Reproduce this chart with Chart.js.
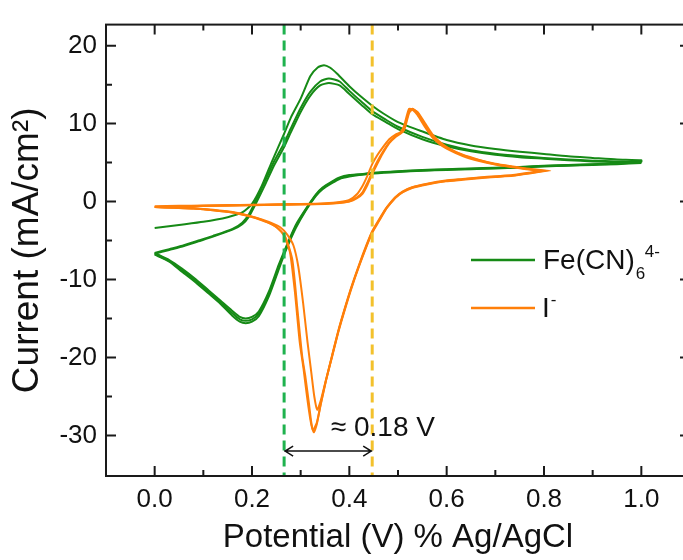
<!DOCTYPE html>
<html><head><meta charset="utf-8">
<script src="https://cdn.jsdelivr.net/npm/chart.js@4.4.1/dist/chart.umd.min.js"></script>
<style>html,body{margin:0;padding:0;background:#fff;overflow:hidden;width:683px;height:560px}canvas{display:block}</style>
</head><body><canvas id="c" width="700" height="560" style="width:700px;height:560px"></canvas>
<script>
// ---- axis ticks ----
const xTicks = [0.0, 0.2, 0.4, 0.6, 0.8, 1.0];
const xMinorTicks = [0.1, 0.3, 0.5, 0.7, 0.9];
const yTicks = [-30, -20, -10, 0, 10, 20];
const yMinorTicks = [-25, -15, -5, 5, 15];
const seriesNames = ['Fe(CN)6 4-', 'I-'];
const markerE = [0.266, 0.447];          // dashed lines (V)
const markerLabel = '≈ 0.18 V';

// ---- Fe(CN)6 4- : cycle 1 (thin first scan) ----
const feFwd1E = [0.00,0.05,0.10,0.15,0.18,0.20,0.22,0.24,0.266,0.28,0.30,0.32,0.335,0.348,0.36,0.375,0.40,0.425,0.447,0.47,0.50,0.55,0.60,0.65,0.70,0.75,0.80,0.85,0.90,0.95,1.00];
const feFwd1I = [-3.4,-3.0,-2.6,-2.0,-1.4,-0.3,2.0,5.0,8.7,10.8,13.2,16.1,17.2,17.5,17.2,16.4,14.8,13.4,12.3,11.3,10.2,9.0,7.9,7.2,6.75,6.4,6.1,5.8,5.6,5.4,5.3];
const feRevE = [1.00,0.95,0.90,0.85,0.80,0.75,0.70,0.65,0.60,0.55,0.50,0.45,0.42,0.40,0.38,0.365,0.345,0.331,0.31,0.29,0.27,0.255,0.235,0.214,0.20,0.187,0.175,0.159,0.135,0.111,0.085,0.056,0.03,0.00];
const feRev1I = [5.1,4.9,4.8,4.7,4.6,4.45,4.35,4.25,4.15,4.05,3.9,3.7,3.5,3.4,3.1,2.6,1.8,0.9,-1.0,-3.0,-5.8,-8.1,-11.5,-14.1,-14.8,-15.0,-14.8,-14.0,-12.7,-11.4,-10.0,-8.6,-7.5,-6.6];
// ---- Fe(CN)6 4- : cycles 2 and 3 ----
const feFwdE = [0.00,0.03,0.06,0.09,0.12,0.16,0.18,0.194,0.21,0.228,0.245,0.266,0.28,0.30,0.32,0.34,0.358,0.38,0.40,0.425,0.447,0.475,0.50,0.55,0.60,0.65,0.70,0.75,0.80,0.85,0.90,0.95,1.00];
const feFwd2I = [-6.6,-6.1,-5.6,-5.0,-4.4,-3.5,-2.7,-1.6,0.4,2.8,5.1,7.5,9.4,12.0,14.1,15.4,15.8,15.4,14.2,12.8,11.6,10.5,9.6,8.3,7.3,6.6,6.15,5.85,5.6,5.4,5.25,5.15,5.05];
const feRev2I = [5.05,4.85,4.75,4.65,4.55,4.4,4.3,4.2,4.1,4.0,3.85,3.65,3.45,3.3,3.0,2.5,1.7,0.8,-1.1,-3.2,-6.0,-8.4,-11.8,-14.4,-15.1,-15.3,-15.1,-14.3,-12.9,-11.6,-10.2,-8.8,-7.6,-6.7];
const feFwd3I = [-6.7,-6.2,-5.7,-5.1,-4.5,-3.6,-2.9,-1.9,0.0,2.3,4.6,7.0,8.9,11.5,13.6,14.9,15.2,14.9,13.8,12.4,11.2,10.2,9.3,8.0,7.1,6.45,6.0,5.7,5.5,5.3,5.15,5.05,4.95];
const feRev3I = [4.95,4.8,4.7,4.6,4.5,4.35,4.25,4.15,4.05,3.95,3.8,3.6,3.4,3.2,2.9,2.4,1.6,0.7,-1.2,-3.4,-6.2,-8.7,-12.1,-14.7,-15.4,-15.6,-15.4,-14.6,-13.1,-11.8,-10.4,-9.0,-7.7,-6.8];

// ---- I- : forward scans ----
const iFwdE = [0.00,0.05,0.10,0.15,0.20,0.25,0.30,0.35,0.38,0.40,0.415,0.427,0.437,0.447,0.458,0.468,0.482,0.495,0.505,0.512,0.518,0.523,0.530,0.540,0.555,0.571,0.585,0.60,0.633,0.667,0.70,0.736,0.77,0.80];
const iFwd1I = [-0.6,-0.55,-0.5,-0.45,-0.4,-0.35,-0.3,-0.2,-0.05,0.2,0.9,2.0,3.3,4.8,6.0,6.9,8.0,8.6,8.9,9.6,11.0,11.9,11.8,11.1,9.6,8.2,7.4,6.8,5.85,5.2,4.75,4.4,4.1,3.9];
const iFwd2I = [-0.7,-0.62,-0.55,-0.5,-0.45,-0.4,-0.35,-0.28,-0.15,0.05,0.5,1.2,2.4,3.8,5.2,6.3,7.6,8.4,8.8,9.3,10.6,11.6,11.9,11.4,9.9,8.4,7.6,6.95,5.95,5.3,4.8,4.45,4.15,3.95];
const iFwd3I = [-0.7,-0.65,-0.58,-0.52,-0.47,-0.42,-0.37,-0.3,-0.18,0.0,0.4,1.0,2.1,3.5,4.9,6.1,7.5,8.3,8.7,9.1,10.3,11.4,11.8,11.5,10.1,8.6,7.7,7.0,6.0,5.35,4.85,4.5,4.2,4.0];
// ---- I- : reverse scans ----
const iRev1E = [0.80,0.77,0.736,0.70,0.667,0.633,0.598,0.56,0.529,0.51,0.495,0.485,0.475,0.461,0.447,0.435,0.42,0.405,0.392,0.378,0.365,0.352,0.341,0.334,0.328,0.322,0.314,0.305,0.295,0.285,0.272,0.258,0.242,0.22,0.194,0.16,0.12,0.08,0.04,0.00];
const iRev1I = [3.9,3.6,3.3,3.15,3.0,2.8,2.6,2.2,1.75,1.2,0.5,-0.2,-1.0,-2.5,-4.0,-5.8,-8.3,-11.0,-13.6,-16.6,-19.8,-22.9,-25.6,-26.7,-25.0,-22.0,-18.0,-13.0,-8.3,-5.6,-4.2,-3.3,-2.8,-2.3,-1.8,-1.35,-1.05,-0.85,-0.75,-0.7];
const iRev2E = [0.80,0.77,0.736,0.70,0.667,0.633,0.598,0.56,0.529,0.51,0.495,0.485,0.475,0.461,0.447,0.435,0.42,0.405,0.392,0.378,0.365,0.352,0.341,0.333,0.327,0.322,0.317,0.31,0.303,0.293,0.283,0.269,0.255,0.242,0.22,0.194,0.16,0.12,0.08,0.04,0.00];
const iRev2I = [3.95,3.65,3.35,3.2,3.05,2.85,2.65,2.25,1.8,1.25,0.55,-0.15,-0.95,-2.4,-3.9,-5.7,-8.2,-10.9,-13.5,-16.5,-19.7,-23.0,-26.1,-28.6,-29.6,-28.4,-25.9,-22.6,-19.8,-13.6,-7.5,-4.6,-3.5,-2.95,-2.4,-1.9,-1.4,-1.1,-0.9,-0.8,-0.7];
const iRev3E = [0.80,0.77,0.736,0.70,0.667,0.633,0.598,0.56,0.529,0.51,0.495,0.485,0.475,0.461,0.447,0.435,0.42,0.405,0.392,0.378,0.365,0.352,0.341,0.333,0.325,0.32,0.313,0.306,0.298,0.288,0.278,0.265,0.252,0.24,0.22,0.194,0.16,0.12,0.08,0.04,0.00];
const iRev3I = [4.0,3.7,3.4,3.25,3.1,2.9,2.7,2.3,1.85,1.3,0.6,-0.1,-0.9,-2.3,-3.8,-5.6,-8.1,-10.8,-13.4,-16.4,-19.6,-22.9,-26.0,-28.4,-29.3,-28.0,-25.0,-21.5,-18.0,-11.5,-6.5,-4.3,-3.4,-2.9,-2.35,-1.85,-1.4,-1.1,-0.9,-0.8,-0.7];

const GREEN = '#168a16', ORANGE = '#ff7f0a';
const pts = (e, i) => e.map((v, k) => ({x: v, y: i[k]}));
const cyc = (fe, fi, re, ri) => pts(fe, fi).concat(pts(re, ri));
const line = (data, color) => ({data, borderColor: color, backgroundColor: color, borderWidth: 2, showLine: true, pointRadius: 0, tension: 0.2, fill: false});

const datasets = [
  line(cyc(iFwdE, iFwd1I, iRev1E, iRev1I), ORANGE),
  line(cyc(iFwdE, iFwd2I, iRev2E, iRev2I), ORANGE),
  line(cyc(iFwdE, iFwd3I, iRev3E, iRev3I), ORANGE),
  line(cyc(feFwd1E, feFwd1I, feRevE, feRev1I), GREEN),
  line(cyc(feFwdE, feFwd2I, feRevE, feRev2I), GREEN),
  line(cyc(feFwdE, feFwd3I, feRevE, feRev3I), GREEN)
];

const overlay = {
  id: 'overlay',
  afterDatasetsDraw(chart) {
    const {ctx, chartArea: a, scales: {x, y}} = chart;
    ctx.save();
    // dashed guide lines
    ctx.lineWidth = 3; ctx.setLineDash([10, 6]);
    [[markerE[0], '#1fb24e'], [markerE[1], '#f3c12c']].forEach(([e, c]) => {
      const px = x.getPixelForValue(e);
      ctx.strokeStyle = c; ctx.beginPath(); ctx.moveTo(px, a.top); ctx.lineTo(px, a.bottom); ctx.stroke();
    });
    ctx.setLineDash([]);
    // double arrow
    const x1 = x.getPixelForValue(markerE[0]), x2 = x.getPixelForValue(markerE[1]), ay = y.getPixelForValue(-32);
    ctx.strokeStyle = '#111'; ctx.lineWidth = 1.5;
    ctx.beginPath(); ctx.moveTo(x1, ay); ctx.lineTo(x2, ay);
    ctx.moveTo(x1 + 9, ay - 5); ctx.lineTo(x1 + 1, ay); ctx.lineTo(x1 + 9, ay + 5);
    ctx.moveTo(x2 - 9, ay - 5); ctx.lineTo(x2 - 1, ay); ctx.lineTo(x2 - 9, ay + 5);
    ctx.stroke();
    ctx.fillStyle = '#111'; ctx.font = '28px "Liberation Sans", Arial, sans-serif';
    ctx.textBaseline = 'middle'; ctx.textAlign = 'left';
    ctx.fillText(markerLabel, x.getPixelForValue(0.362), y.getPixelForValue(-29.1));
    // legend
    const lx0 = 471, lx1 = 535, tx = 543;
    ctx.lineWidth = 2.5;
    ctx.strokeStyle = GREEN; ctx.beginPath(); ctx.moveTo(lx0, 260); ctx.lineTo(lx1, 260); ctx.stroke();
    ctx.strokeStyle = ORANGE; ctx.beginPath(); ctx.moveTo(lx0, 308); ctx.lineTo(lx1, 308); ctx.stroke();
    ctx.textBaseline = 'alphabetic'; ctx.fillStyle = '#111';
    ctx.font = '28px "Liberation Sans", Arial, sans-serif';
    const fe = 'Fe(CN)'; ctx.fillText(fe, tx, 268.5);
    const w = ctx.measureText(fe).width;
    ctx.font = '17px "Liberation Sans", Arial, sans-serif';
    ctx.fillText('6', tx + w + 1, 278.5);
    ctx.fillText('4-', tx + w + 10, 257);
    ctx.font = '28px "Liberation Sans", Arial, sans-serif';
    ctx.fillText('I', tx - 1, 316.5);
    const wi = ctx.measureText('I').width;
    ctx.font = '17px "Liberation Sans", Arial, sans-serif';
    ctx.fillText('-', tx + wi, 305);
    // frame and inward ticks
    ctx.strokeStyle = '#1a1a1a'; ctx.lineWidth = 2;
    ctx.strokeRect(a.left, a.top, a.right - a.left, a.bottom - a.top);
    ctx.beginPath();
    const tickX = (v, len) => { const p = x.getPixelForValue(v); ctx.moveTo(p, a.bottom); ctx.lineTo(p, a.bottom - len); ctx.moveTo(p, a.top); ctx.lineTo(p, a.top + len); };
    const tickY = (v, len) => { const p = y.getPixelForValue(v); ctx.moveTo(a.left, p); ctx.lineTo(a.left + len, p); ctx.moveTo(a.right, p); ctx.lineTo(a.right - len, p); };
    xTicks.forEach(v => tickX(v, 10)); xMinorTicks.forEach(v => tickX(v, 6));
    yTicks.forEach(v => tickY(v, 10)); yMinorTicks.forEach(v => tickY(v, 6));
    ctx.stroke();
    ctx.restore();
  }
};

new Chart(document.getElementById('c'), {
  type: 'scatter',
  data: {datasets},
  options: {
    responsive: false, animation: false, devicePixelRatio: 1,
    layout: {padding: {top: 5, right: 10, left: 0, bottom: 0}},
    plugins: {legend: {display: false}, tooltip: {enabled: false}},
    scales: {
      x: {
        type: 'linear', position: 'bottom', min: -0.1, max: 1.1,
        afterBuildTicks: s => { s.ticks = xTicks.map(v => ({value: v})); },
        afterFit: s => { s.height = 84; },
        grid: {display: false, drawTicks: false}, border: {display: false},
        ticks: {padding: 8, color: '#111', font: {family: '"Liberation Sans", Arial, sans-serif', size: 26}, callback: v => Number(v).toFixed(1)},
        title: {display: true, text: 'Potential (V) % Ag/AgCl', color: '#111', padding: {top: 0, bottom: 2}, font: {family: '"Liberation Sans", Arial, sans-serif', size: 33}}
      },
      y: {
        type: 'linear', position: 'left', min: -35.2, max: 22.7,
        afterBuildTicks: s => { s.ticks = yTicks.map(v => ({value: v})); },
        afterFit: s => { s.width = 106; },
        grid: {display: false, drawTicks: false}, border: {display: false},
        ticks: {padding: 9, color: '#111', font: {family: '"Liberation Sans", Arial, sans-serif', size: 26}, callback: v => String(v)},
        title: {display: true, text: 'Current (mA/cm²)', color: '#111', padding: {top: 6, bottom: 0}, font: {family: '"Liberation Sans", Arial, sans-serif', size: 37}}
      }
    }
  },
  plugins: [overlay]
});
</script>
</body></html>
